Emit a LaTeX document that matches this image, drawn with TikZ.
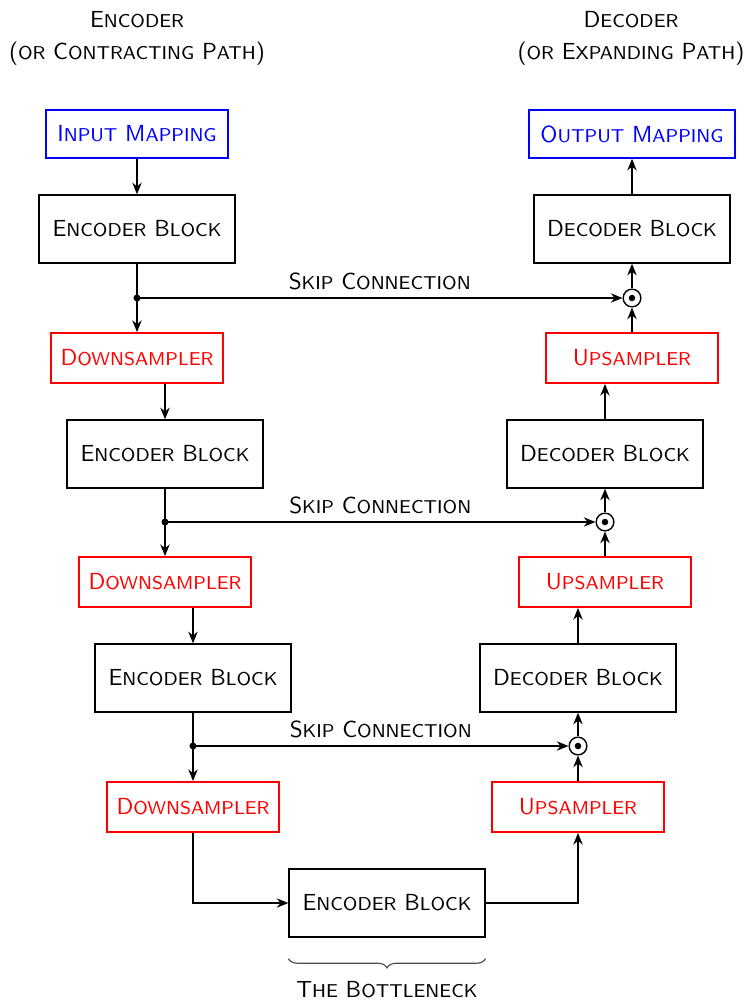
\documentclass[tikz,border=0pt]{standalone}
\usepackage{tikz}
\usetikzlibrary{arrows.meta,positioning,decorations.pathreplacing}
\newcommand\smc[1]{{\fontsize{8}{9.6}\selectfont\MakeUppercase{#1}}}
\begin{document}
\begin{tikzpicture}[x=0.43pt,y=-0.43pt,font=\sffamily,
  block/.style={draw,line width=0.8pt,minimum width=84pt,minimum height=29pt,inner sep=3pt},
  sampler/.style={draw=red,text=red,line width=0.8pt,minimum width=74pt,minimum height=21.5pt,inner sep=3pt},
  mapping/.style={draw=blue,text=blue,line width=0.8pt,minimum height=20.5pt,inner xsep=5pt},
  arrow/.style={-{Stealth[length=5pt,width=4pt]},line width=0.8pt},
  merge/.style={circle,draw,line width=0.6pt,inner sep=0pt,minimum size=7.6pt},
  title/.style={align=center}]
\useasboundingbox (0,0) rectangle (749,1003);
% headings
\node[title](enctitle) at (137,38.5){E\smc{ncoder}\\[1.6pt](\smc{or} C\smc{ontracting} P\smc{ath})};
\node[title](dectitle) at (631,38.5){D\smc{ecoder}\\[1.6pt](\smc{or} E\smc{xpanding} P\smc{ath})};
% encoder side
\node[mapping](input) at (137,134){I\smc{nput} M\smc{apping}};
\node[block](enc1) at (137,229){E\smc{ncoder} B\smc{lock}};
\node[sampler](down1) at (137,358){D\smc{ownsampler}};
\node[block](enc2) at (165,454){E\smc{ncoder} B\smc{lock}};
\node[sampler](down2) at (165,582){D\smc{ownsampler}};
\node[block](enc3) at (193,678){E\smc{ncoder} B\smc{lock}};
\node[sampler](down3) at (193,807){D\smc{ownsampler}};
\node[block](bneck) at (387,903){E\smc{ncoder} B\smc{lock}};
% decoder side
\node[mapping](output) at (632,134){O\smc{utput} M\smc{apping}};
\node[block](dec1) at (632,229){D\smc{ecoder} B\smc{lock}};
\node[sampler](up1) at (632,358){U\smc{psampler}};
\node[block](dec2) at (605,454){D\smc{ecoder} B\smc{lock}};
\node[sampler](up2) at (605,582){U\smc{psampler}};
\node[block](dec3) at (578,678){D\smc{ecoder} B\smc{lock}};
\node[sampler](up3) at (578,807){U\smc{psampler}};
% merge points
\node[merge](m1) at (632,298){};
\node[merge](m2) at (605,522){};
\node[merge](m3) at (578,746){};
\foreach \m in {m1,m2,m3}
  \fill (\m) circle (1.4pt);
\coordinate (j1) at (137,298);
\coordinate (j2) at (165,522);
\coordinate (j3) at (193,746);
\foreach \j in {j1,j2,j3}
  \fill (\j) circle (1.5pt);
% encoder path
\draw[arrow](input)--(enc1);
\draw[arrow](enc1)--(down1);
\draw[arrow](down1.south -| enc2.north)--(enc2.north);
\draw[arrow](enc2)--(down2);
\draw[arrow](down2.south -| enc3.north)--(enc3.north);
\draw[arrow](enc3)--(down3);
\draw[arrow](down3.south) |- (bneck.west);
% decoder path
\draw[arrow](bneck.east) -| (up3.south);
\draw[arrow](up3)--(m3);
\draw[arrow](m3)--(dec3);
\draw[arrow](dec3.north)--(dec3.north |- up2.south);
\draw[arrow](up2)--(m2);
\draw[arrow](m2)--(dec2);
\draw[arrow](dec2.north)--(dec2.north |- up1.south);
\draw[arrow](up1)--(m1);
\draw[arrow](m1)--(dec1);
\draw[arrow](dec1)--(output);
% skip connections
\draw[arrow](j1)--(m1) node[midway,above=-0.5pt]{S\smc{kip} C\smc{onnection}};
\draw[arrow](j2)--(m2) node[midway,above=-0.5pt]{S\smc{kip} C\smc{onnection}};
\draw[arrow](j3)--(m3) node[midway,above=-0.5pt]{S\smc{kip} C\smc{onnection}};
% bottleneck brace
\coordinate (bl) at ([yshift=-9pt]bneck.south west);
\coordinate (br) at ([yshift=-9pt]bneck.south east);
\draw[decorate,decoration={brace,mirror,amplitude=4pt},line width=0.5pt,black!70](bl)--(br);
\node(bottle) at (387,990){T\smc{he} B\smc{ottleneck}};
\end{tikzpicture}
\end{document}
